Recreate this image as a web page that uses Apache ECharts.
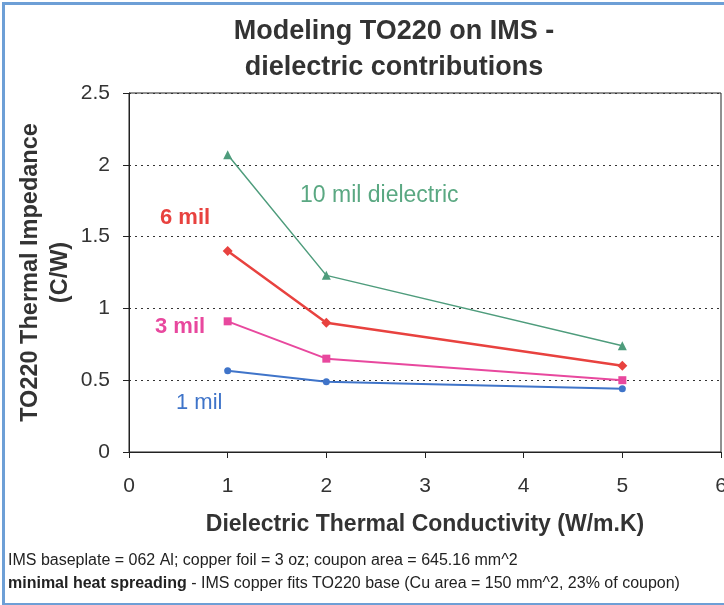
<!DOCTYPE html>
<html>
<head>
<meta charset="utf-8">
<script src="https://cdn.jsdelivr.net/npm/echarts@6/dist/echarts.min.js"></script>
<style>
  html, body { margin: 0; padding: 0; background: #fff; }
  #chart { width: 724px; height: 605px; }
</style>
</head>
<body>
<div id="chart"></div>
<script>
// dielectric thermal conductivity (W/m.K)
const conductivity = [1, 2, 5];

// TO220 thermal impedance (C/W) per dielectric thickness
const mil10 = [2.07, 1.23, 0.74];
const mil6 = [1.40, 0.90, 0.60];
const mil3 = [0.91, 0.65, 0.50];
const mil1 = [0.565, 0.49, 0.44];

const xTicks = [0, 1, 2, 3, 4, 5, 6];
const yTicks = [0, 0.5, 1, 1.5, 2, 2.5];

const pairs = vals => conductivity.map((x, i) => [x, vals[i]]);

const chart = echarts.init(document.getElementById('chart'));

const font = 'Liberation Sans, Arial, sans-serif';

function makeSeries(name, vals, color, symbol, size, width) {
  return {
    name: name,
    type: 'line',
    data: pairs(vals),
    symbol: symbol,
    symbolSize: size,
    itemStyle: { color: color },
    lineStyle: { color: color, width: width },
    animation: false
  };
}

const option = {
  backgroundColor: '#fff',
  animation: false,
  title: {
    text: 'Modeling TO220 on IMS -\ndielectric contributions',
    left: 389,
    top: 9,
    textAlign: 'center',
    textStyle: {
      fontFamily: font,
      fontSize: 27,
      fontWeight: 'bold',
      color: '#333',
      lineHeight: 36
    }
  },
  grid: {
    left: 129,
    right: 3,
    top: 93,
    bottom: 153,
    outerBoundsMode: 'none',
    show: true,
    borderColor: '#222',
    borderWidth: 1
  },
  xAxis: {
    type: 'value',
    min: 0,
    max: 6,
    interval: 1,
    name: 'Dielectric Thermal Conductivity (W/m.K)',
    nameLocation: 'middle',
    nameGap: 61,
    nameTextStyle: { fontFamily: font, fontSize: 23, fontWeight: 'bold', color: '#333' },
    axisLine: { lineStyle: { color: '#222', width: 1 } },
    axisTick: { show: true, length: 6, lineStyle: { color: '#222' } },
    axisLabel: {
      fontFamily: font, fontSize: 21, color: '#333', margin: 24,
      formatter: v => xTicks.includes(v) ? String(v) : ''
    },
    splitLine: { show: false }
  },
  yAxis: {
    type: 'value',
    min: 0,
    max: 2.5,
    interval: 0.5,
    name: 'TO220 Thermal Impedance\n(C/W)',
    nameLocation: 'middle',
    nameGap: 53,
    nameMoveOverlap: false,
    nameRotate: 90,
    nameTextStyle: { fontFamily: font, fontSize: 23.5, fontWeight: 'bold', color: '#333', lineHeight: 30 },
    axisLine: { show: true, lineStyle: { color: '#222', width: 1 } },
    axisTick: { show: true, length: 6, lineStyle: { color: '#222' } },
    axisLabel: {
      fontFamily: font, fontSize: 21, color: '#333', margin: 19,
      formatter: v => yTicks.includes(v) ? String(v) : ''
    },
    splitLine: { show: true, lineStyle: { color: '#333', type: [2, 4], width: 1 } }
  },
  series: [
    makeSeries('10 mil', mil10, '#4e9c7c', 'triangle', 9, 1.5),
    makeSeries('6 mil', mil6, '#e8423f', 'diamond', 10, 2.5),
    makeSeries('3 mil', mil3, '#e8489e', 'rect', 8, 2),
    makeSeries('1 mil', mil1, '#3f74c9', 'circle', 7, 2)
  ],
  graphic: [
    {
      type: 'rect', left: 1, top: 1, z: 100,
      shape: { width: 740, height: 601 },
      style: { fill: 'none', stroke: '#6d9fd6', lineWidth: 3 }
    },
    {
      type: 'text', left: 300, top: 184,
      style: { text: '10 mil dielectric', fill: '#5aa882', font: '23px ' + font }
    },
    {
      type: 'text', left: 160, top: 207,
      style: { text: '6 mil', fill: '#e8423f', font: 'bold 22px ' + font }
    },
    {
      type: 'text', left: 155, top: 316,
      style: { text: '3 mil', fill: '#e8489e', font: 'bold 22px ' + font }
    },
    {
      type: 'text', left: 176, top: 392,
      style: { text: '1 mil', fill: '#3f74c9', font: '22px ' + font }
    },
    {
      type: 'text', left: 8, top: 553,
      style: {
        text: 'IMS baseplate = 062 Al; copper foil = 3 oz; coupon area = 645.16 mm^2',
        fill: '#222', font: '16px ' + font
      }
    },
    {
      type: 'text', left: 8, top: 576,
      style: {
        text: '{b|minimal heat spreading} - IMS copper fits TO220 base (Cu area = 150 mm^2, 23% of coupon)',
        fill: '#222', font: '16px ' + font,
        rich: {
          b: { fontWeight: 'bold', fontSize: 16, fontFamily: font, fill: '#222' }
        }
      }
    }
  ]
};

chart.setOption(option);
</script>
</body>
</html>
